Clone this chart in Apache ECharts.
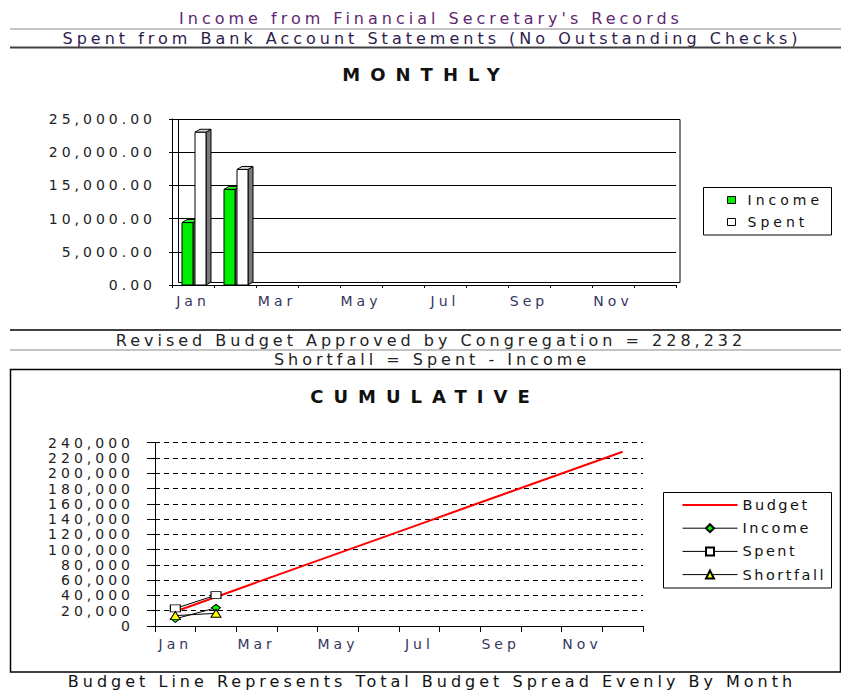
<!DOCTYPE html>
<html>
<head>
<meta charset="utf-8">
<script src="https://cdn.jsdelivr.net/npm/echarts@6/dist/echarts.min.js"></script>
<style>
  html, body { margin: 0; padding: 0; background: #fff; }
  #chart { width: 841px; height: 690px; }
  #chart text { letter-spacing: 4px; }
  #chart text[style*="18px"] { letter-spacing: 10px; }
  #chart text[style*="14.5px"] { letter-spacing: 2.5px; }
</style>
</head>
<body>
<div id="chart"></div>
<script>
// ---- data ----
const months = ['Jan','Feb','Mar','Apr','May','Jun','Jul','Aug','Sep','Oct','Nov','Dec'];
const monthlyIncome = [9400, 14400];
const monthlySpent = [23000, 17400];
const cumBudget = [19019, 38039, 57058, 76077, 95097, 114116, 133135, 152155, 171174, 190193, 209213, 228232];
const cumIncome = [9400, 23800];
const cumSpent = [23000, 40400];
const cumShortfall = [13600, 16600];
const headerLines = [
  "Income from Financial Secretary's Records",
  "Spent from Bank Account Statements (No Outstanding Checks)"
];
const middleLines = [
  "Revised Budget Approved by Congregation = 228,232",
  "Shortfall = Spent - Income"
];
const footerLine = "Budget Line Represents Total Budget Spread Evenly By Month";

const FONT = 'DejaVu Sans';
const chart = echarts.init(document.getElementById('chart'), null, { renderer: 'svg' });

function bar3d(offset, front, top, side) {
  return function (params, api) {
    const idx = api.value(0), v = api.value(1);
    const p = api.coord([idx, v]);
    const b = api.coord([idx, 0]);
    const w = 11, dx = 5, dy = 3;
    const x = p[0] + offset - w / 2;
    return {
      type: 'group',
      children: [
        { type: 'polygon', shape: { points: [[x + w, p[1]], [x + w + dx, p[1] - dy], [x + w + dx, b[1] - dy], [x + w, b[1]]] },
          style: { fill: side, stroke: '#000', lineWidth: 1 } },
        { type: 'polygon', shape: { points: [[x, p[1]], [x + dx, p[1] - dy], [x + w + dx, p[1] - dy], [x + w, p[1]]] },
          style: { fill: top, stroke: '#000', lineWidth: 1 } },
        { type: 'rect', shape: { x: x, y: p[1], width: w, height: b[1] - p[1] },
          style: { fill: front, stroke: '#000', lineWidth: 1 } }
      ]
    };
  };
}

function txt(text, x, y, size, color, weight) {
  return { type: 'text', x: x, y: y, silent: true,
    style: { text: text, fill: color, font: (weight || 'normal') + ' ' + size + 'px "' + FONT + '"',
             textAlign: 'center', textVerticalAlign: 'middle' } };
}
function hline(y, color, w) {
  return { type: 'line', silent: true, shape: { x1: 10, y1: y, x2: 841, y2: y }, style: { stroke: color, lineWidth: w } };
}

const option = {
  animation: false,
  backgroundColor: '#fff',
  textStyle: { fontFamily: FONT },
  grid: [
    { left: 172, top: 119, width: 504, height: 166 },
    { left: 155, top: 442.7, width: 488, height: 183.3 }
  ],
  xAxis: [
    { gridIndex: 0, type: 'category', data: months, boundaryGap: true,
      axisLine: { lineStyle: { color: '#000', width: 1 } },
      axisTick: { show: true, interval: 0, length: 3, lineStyle: { color: '#000' } },
      axisLabel: { interval: 1, margin: 9, color: '#363660', fontSize: 14, fontFamily: FONT },
      splitLine: { show: false } },
    { gridIndex: 1, type: 'category', data: months, boundaryGap: true,
      axisLine: { lineStyle: { color: '#000', width: 1 } },
      axisTick: { show: true, interval: 0, length: 6, lineStyle: { color: '#000' } },
      axisLabel: { interval: 1, margin: 11, color: '#363660', fontSize: 14, fontFamily: FONT },
      splitLine: { show: false } }
  ],
  yAxis: [
    { gridIndex: 0, type: 'value', min: 0, max: 25000, interval: 5000,
      axisLine: { show: true, lineStyle: { color: '#000' } },
      axisTick: { show: true, length: 3, lineStyle: { color: '#000' } },
      axisLabel: { margin: 16, color: '#222', fontSize: 14, fontFamily: FONT,
        formatter: v => v.toLocaleString('en-US', { minimumFractionDigits: 2, maximumFractionDigits: 2 }) },
      splitLine: { show: true, lineStyle: { color: '#000', width: 1 } } },
    { gridIndex: 1, type: 'value', min: 0, max: 240000, interval: 20000,
      axisLine: { show: true, lineStyle: { color: '#000' } },
      axisTick: { show: true, length: 8, lineStyle: { color: '#000' } },
      axisLabel: { margin: 21, color: '#222', fontSize: 14, fontFamily: FONT,
        formatter: v => v.toLocaleString('en-US') },
      splitLine: { show: true, lineStyle: { color: '#000', width: 1, type: [5, 4] } } }
  ],
  legend: [
    { orient: 'vertical', left: 727, top: 193, padding: 0, itemWidth: 8, itemHeight: 7, itemGap: 8,
      textStyle: { fontSize: 14, color: '#111', fontFamily: FONT, padding: [0, 0, 0, 7] },
      data: [
        { name: 'Income', icon: 'rect', itemStyle: { color: '#00ee00', borderColor: '#000', borderWidth: 1 } },
        { name: 'Spent', icon: 'rect', itemStyle: { color: '#fff', borderColor: '#000', borderWidth: 1 } }
      ] },
    { orient: 'vertical', left: 682, top: 497.5, padding: 0, itemWidth: 55, itemHeight: 10, itemGap: 8.2,
      textStyle: { fontSize: 14.5, color: '#111', fontFamily: FONT },
      data: [
        { name: 'Budget', icon: 'path://M0,0h55v2h-55z', itemStyle: { color: '#ff0000' } },
        { name: 'Income ', lineStyle: { width: 1 } },
        { name: 'Spent ', lineStyle: { width: 1 } },
        { name: 'Shortfall', lineStyle: { width: 1 } }
      ] }
  ],
  series: [
    { name: 'Income', type: 'custom', xAxisIndex: 0, yAxisIndex: 0,
      itemStyle: { color: '#00ee00' },
      renderItem: bar3d(-5.5, '#00ee00', '#30ff30', '#7a7a7a'),
      encode: { x: 0, y: 1 },
      data: monthlyIncome.map((v, i) => [i, v]) },
    { name: 'Spent', type: 'custom', xAxisIndex: 0, yAxisIndex: 0,
      itemStyle: { color: '#fff' },
      renderItem: bar3d(7.5, '#ffffff', '#d8d8d8', '#7a7a7a'),
      encode: { x: 0, y: 1 },
      data: monthlySpent.map((v, i) => [i, v]) },
    { name: 'Budget', type: 'line', xAxisIndex: 1, yAxisIndex: 1, data: cumBudget,
      symbol: 'none', lineStyle: { color: '#ff0000', width: 2 }, itemStyle: { color: '#ff0000' } },
    { name: 'Income ', type: 'line', xAxisIndex: 1, yAxisIndex: 1, data: cumIncome,
      symbol: 'diamond', symbolSize: [9, 7], lineStyle: { color: '#000', width: 1 },
      itemStyle: { color: '#00ff00', borderColor: '#000', borderWidth: 1 } },
    { name: 'Spent ', type: 'line', xAxisIndex: 1, yAxisIndex: 1, data: cumSpent,
      symbol: 'rect', symbolSize: [10, 7], lineStyle: { color: '#000', width: 1 },
      itemStyle: { color: '#fff', borderColor: '#000', borderWidth: 1 } },
    { name: 'Shortfall', type: 'line', xAxisIndex: 1, yAxisIndex: 1, data: cumShortfall,
      symbol: 'triangle', symbolSize: [10, 8], lineStyle: { color: '#000', width: 1 },
      itemStyle: { color: '#ffff00', borderColor: '#000', borderWidth: 1 } }
  ],
  graphic: [
    txt(headerLines[0], 431, 18, 16, '#602870'),
    hline(29, '#c4c4c4', 2),
    txt(headerLines[1], 432, 38, 16, '#2e1c4c'),
    hline(47.5, '#404040', 2),
    txt('MONTHLY', 426, 74, 18, '#111', 'bold'),
    { type: 'rect', silent: true, shape: { x: 178.5, y: 119.5, width: 501.5, height: 163 },
      style: { fill: 'none', stroke: '#000', lineWidth: 1 } },
    { type: 'rect', silent: true, shape: { x: 703.5, y: 187.5, width: 128, height: 47.5 },
      style: { fill: 'none', stroke: '#000', lineWidth: 1 } },
    hline(330, '#404040', 2),
    txt(middleLines[0], 431, 340, 16, '#222'),
    hline(350, '#c4c4c4', 2),
    txt(middleLines[1], 432, 359, 16, '#222'),
    { type: 'rect', silent: true, shape: { x: 10.5, y: 369.5, width: 830, height: 302.5 },
      style: { fill: 'none', stroke: '#000', lineWidth: 1.5 } },
    txt('CUMULATIVE', 425, 396, 18, '#111', 'bold'),
    { type: 'rect', silent: true, shape: { x: 663.5, y: 492.5, width: 168, height: 95.5 },
      style: { fill: 'none', stroke: '#000', lineWidth: 1 } },
    txt(footerLine, 432, 681, 16, '#111')
  ]
};
chart.setOption(option);
</script>
</body>
</html>
